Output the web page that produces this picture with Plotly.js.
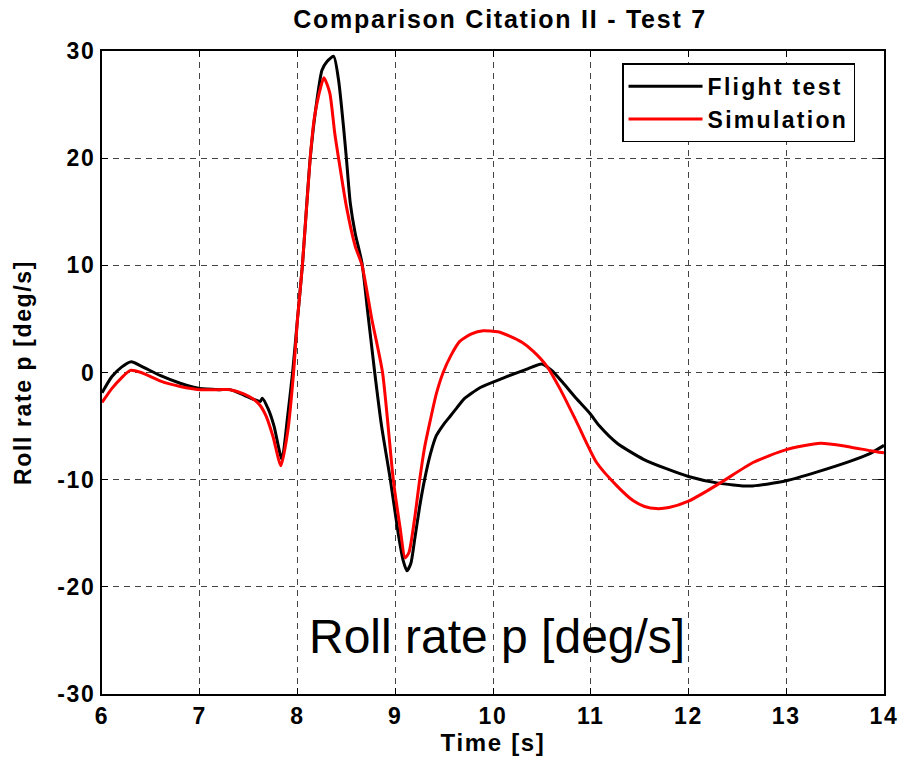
<!DOCTYPE html>
<html><head><meta charset="utf-8">
<script src="https://cdn.plot.ly/plotly-3.0.1.min.js"></script>
<style>
body{margin:0;background:#fff}
#chart{width:901px;height:764px}
svg text:not(.annotation-text){letter-spacing:0.07em}
svg text.legendtext{letter-spacing:0.1em}
</style>
</head><body><div id="chart"></div>
<script>
const flightT = [6.0,6.1,6.2,6.3,6.4,6.6,6.8,7.0,7.2,7.31,7.45,7.55,7.62,7.64,7.7,7.76,7.84,7.9,7.95,8.0,8.05,8.13,8.2,8.25,8.3,8.37,8.42,8.47,8.5,8.54,8.59,8.66,8.72,8.79,8.86,8.95,9.03,9.08,9.12,9.16,9.2,9.25,9.3,9.36,9.42,9.49,9.56,9.63,9.7,9.87,10.11,10.34,10.5,10.6,10.72,10.85,10.99,11.09,11.27,11.54,11.78,12.0,12.29,12.63,13.0,13.31,13.65,13.85,14.0];
const flightP = [-1.9,-0.4,0.5,1.0,0.6,-0.3,-1.0,-1.5,-1.6,-1.6,-2.1,-2.5,-2.7,-2.4,-3.4,-5.0,-8.1,-4.0,0.0,5.0,10.0,20.0,25.5,28.2,29.0,29.5,27.3,23.0,20.0,15.8,13.0,10.2,5.5,0.0,-5.0,-10.0,-15.0,-17.5,-18.5,-17.8,-15.5,-12.5,-10.0,-7.6,-5.9,-4.9,-4.1,-3.3,-2.5,-1.4,-0.5,0.3,0.8,0.2,-1.0,-2.4,-3.8,-5.0,-6.6,-8.1,-9.0,-9.7,-10.3,-10.6,-10.1,-9.3,-8.3,-7.6,-6.8];
const simT = [6.0,6.1,6.2,6.29,6.4,6.6,6.8,7.0,7.2,7.31,7.45,7.55,7.62,7.68,7.75,7.83,7.9,7.96,8.0,8.05,8.13,8.17,8.22,8.27,8.33,8.38,8.42,8.5,8.59,8.66,8.76,8.87,8.98,9.05,9.1,9.14,9.2,9.25,9.3,9.36,9.42,9.49,9.57,9.66,9.78,9.9,10.05,10.17,10.3,10.41,10.55,10.69,10.86,11.06,11.27,11.44,11.55,11.67,11.8,12.0,12.18,12.36,12.66,13.0,13.35,13.62,13.86,14.0];
const simP = [-2.8,-1.5,-0.5,0.2,0.0,-0.8,-1.3,-1.6,-1.6,-1.6,-2.0,-2.5,-3.1,-4.1,-6.0,-8.7,-5.5,0.0,5.0,10.0,20.0,23.6,26.0,27.5,26.1,22.4,20.0,15.5,11.8,10.0,5.0,0.0,-10.0,-14.5,-17.3,-16.8,-13.5,-10.0,-7.0,-4.4,-2.0,0.0,1.6,2.9,3.6,3.9,3.8,3.4,2.8,2.0,0.6,-1.6,-4.7,-8.4,-10.6,-12.0,-12.5,-12.7,-12.6,-12.0,-11.1,-10.1,-8.4,-7.2,-6.6,-6.9,-7.3,-7.5];
const xTicks = [6,7,8,9,10,11,12,13,14];
const yTicks = [-30,-20,-10,0,10,20,30];

const font = 'Liberation Sans, Arial, sans-serif';
const axisCommon = {
  showline:true, linecolor:'#000', linewidth:2, mirror:'ticks',
  ticks:'inside', ticklen:6, tickcolor:'#000', tickwidth:1,
  showgrid:true, gridcolor:'#444', griddash:'6px,5px', gridwidth:1,
  zeroline:false, tickfont:{family:font, size:23, color:'#000', weight:'bold'}
};
const data = [
  {x:flightT, y:flightP, type:'scatter', mode:'lines', name:'Flight test', line:{color:'#000', width:3, shape:'spline', smoothing:0.6}},
  {x:simT, y:simP, type:'scatter', mode:'lines', name:'Simulation', line:{color:'#ff0000', width:3, shape:'spline', smoothing:0.6}}
];
const layout = {
  width:901, height:764,
  margin:{l:102, r:17, t:51, b:70},
  paper_bgcolor:'#fff', plot_bgcolor:'#fff',
  title:{text:'Comparison Citation II - Test 7', font:{family:font, size:25, color:'#000', weight:'bold'}, x:0.555, xanchor:'center', y:0.975, yanchor:'middle'},
  xaxis:Object.assign({}, axisCommon, {range:[6,14], tickvals:xTicks, ticktext:xTicks.map(String),
    title:{text:'Time [s]', font:{family:font, size:24, color:'#000', weight:'bold'}, standoff:0}}),
  yaxis:Object.assign({}, axisCommon, {range:[-30,30], tickvals:yTicks, ticktext:yTicks.map(String),
    title:{text:'Roll rate p [deg/s]', font:{family:font, size:23, color:'#000', weight:'bold'}, standoff:19}}),
  legend:{x:0.665, y:0.981, xanchor:'left', yanchor:'top', bgcolor:'#fff', bordercolor:'#000', borderwidth:1.5,
    font:{family:font, size:23, color:'#000', weight:'bold'}, tracegroupgap:0, itemwidth:74},
  annotations:[{text:'Roll rate p [deg/s]', xref:'paper', yref:'paper', x:0.505, y:0.09, xanchor:'center', yanchor:'middle', showarrow:false,
    font:{family:font, size:48, color:'#000'}}],
  showlegend:true
};
Plotly.newPlot('chart', data, layout, {displayModeBar:false});
</script></body></html>
